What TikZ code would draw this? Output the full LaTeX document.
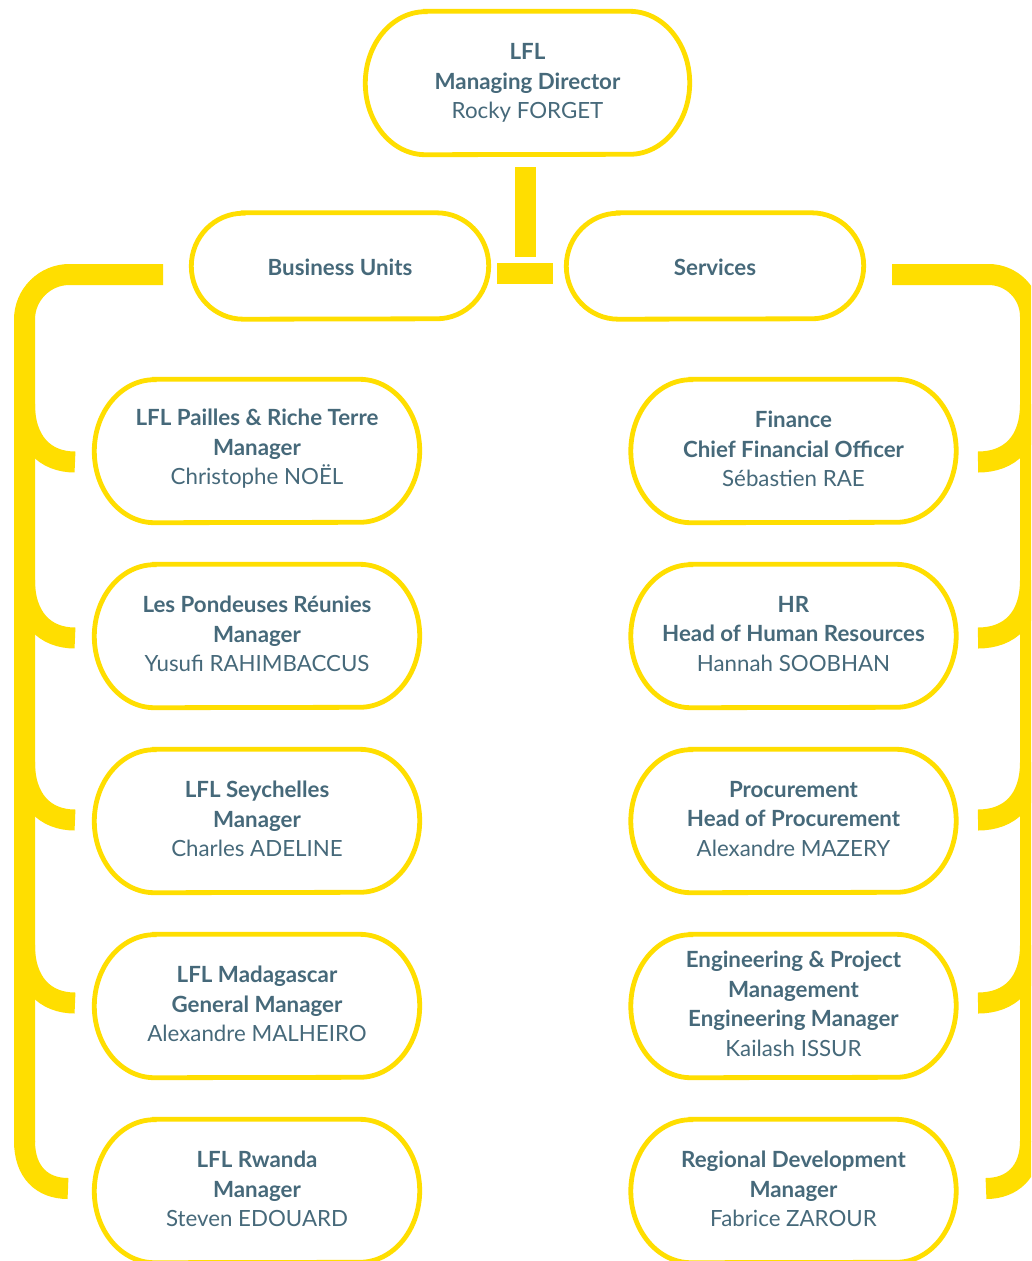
\documentclass[tikz,border=0pt]{standalone}
\usepackage{fontspec}
\setmainfont{Lato}
\definecolor{ylw}{HTML}{FFDE00}
\definecolor{txt}{HTML}{46697A}
\tikzset{
  pill/.style={draw=none, align=center, text=txt, inner sep=0pt,
    font=\fontsize{22.3}{29.5}\selectfont},
  pillline/.style={draw=ylw, line width=4.8pt},
  bar/.style={draw=ylw, line width=21pt, line cap=butt},
}
% name, cx, cy, w, h, rx, text-yshift, text
\newcommand\pillbox[8]{%
  \node[pill, minimum width=#4pt, minimum height=#5pt] (#1) at (#2,#3) {};
  \node[pill, yshift=#7pt] (#1t) at (#1.center) {#8};
  \draw[pillline] ([xshift=#6pt]#1.north west) -- ([xshift=-#6pt]#1.north east)
    arc[start angle=90, end angle=-90, x radius=#6pt, y radius=#5pt/2]
    -- ([xshift=#6pt]#1.south west)
    arc[start angle=270, end angle=90, x radius=#6pt, y radius=#5pt/2] -- cycle;
}
\begin{document}
\begin{tikzpicture}[x=1pt,y=-1pt]
\useasboundingbox (0,0) rectangle (1031,1261);
\clip (0,0) rectangle (1031,1261);
\fill[white] (0,0) rectangle (1031,1261);

% boxes
\pillbox{md}{527.5}{83}{324}{143}{60}{0}{\textbf{LFL}\\\textbf{Managing Director}\\Rocky FORGET}
\pillbox{bu}{340}{266}{297}{106}{52}{-1}{\textbf{Business Units}}
\pillbox{sv}{715}{266}{297}{106}{52}{-1}{\textbf{Services}}

\pillbox{l1}{257}{451}{325}{143}{60}{2}{\textbf{LFL Pailles \& Riche Terre}\\\textbf{Manager}\\Christophe NOËL}
\pillbox{l2}{257}{636}{325}{143}{60}{2}{\textbf{Les Pondeuses Réunies}\\\textbf{Manager}\\Yusufi RAHIMBACCUS}
\pillbox{l3}{257}{821}{325}{143}{60}{2}{\textbf{LFL Seychelles}\\\textbf{Manager}\\Charles ADELINE}
\pillbox{l4}{257}{1006}{325}{143}{60}{2}{\textbf{LFL Madagascar}\\\textbf{General Manager}\\Alexandre MALHEIRO}
\pillbox{l5}{257}{1191}{325}{143}{60}{2}{\textbf{LFL Rwanda}\\\textbf{Manager}\\Steven EDOUARD}

\pillbox{r1}{793.5}{451}{325}{143}{60}{2}{\textbf{Finance}\\\textbf{Chief Financial Officer}\\Sébastien RAE}
\pillbox{r2}{793.5}{636}{325}{143}{60}{2}{\textbf{HR}\\\textbf{Head of Human Resources}\\Hannah SOOBHAN}
\pillbox{r3}{793.5}{821}{325}{143}{60}{2}{\textbf{Procurement}\\\textbf{Head of Procurement}\\Alexandre MAZERY}
\pillbox{r4}{793.5}{1006}{325}{143}{60}{2}{\textbf{Engineering \& Project}\\\textbf{Management}\\\textbf{Engineering Manager}\\Kailash ISSUR}
\pillbox{r5}{793.5}{1191}{325}{143}{60}{2}{\textbf{Regional Development}\\\textbf{Manager}\\Fabrice ZAROUR}

% T connector under the managing director
\coordinate (tTop) at (525.5,167);
\coordinate (tBot) at (525.5,257);
\draw[bar] (tTop) -- (tBot);
\coordinate (hL) at (497,273.5);
\coordinate (hR) at (553,273.5);
\draw[bar] (hL) -- (hR);

% left bracket
\coordinate (lTop) at (163,274.5);
\coordinate (lCorner) at (24.5,274.5);
\coordinate (lLow) at (24.5,1142);
\coordinate (lEnd) at (68,1188.5);
\draw[bar, rounded corners=45pt] (lTop) -- (lCorner) -- (lLow);
\draw[bar] (24.5,1141) .. controls (24.5,1172) and (42,1188.5) .. (lEnd);
\foreach \yc in {462, 638, 820, 1003}{
  \draw[bar] (24.5,\yc-58) .. controls (24.5,\yc-20) and (45,\yc) .. (75,\yc);
}

% right bracket
\coordinate (rTop) at (892,274.5);
\coordinate (rCorner) at (1030.5,274.5);
\coordinate (rLow) at (1030.5,1142);
\coordinate (rEnd) at (986,1188.5);
\draw[bar, rounded corners=42pt] (rTop) -- (rCorner) -- (rLow);
\draw[bar] (1030.5,1141) .. controls (1030.5,1172) and (1012,1188.5) .. (rEnd);
\foreach \yc in {462, 638, 820, 1003}{
  \draw[bar] (1030.5,\yc-58) .. controls (1030.5,\yc-20) and (1010,\yc) .. (978,\yc);
}
\end{tikzpicture}
\end{document}
